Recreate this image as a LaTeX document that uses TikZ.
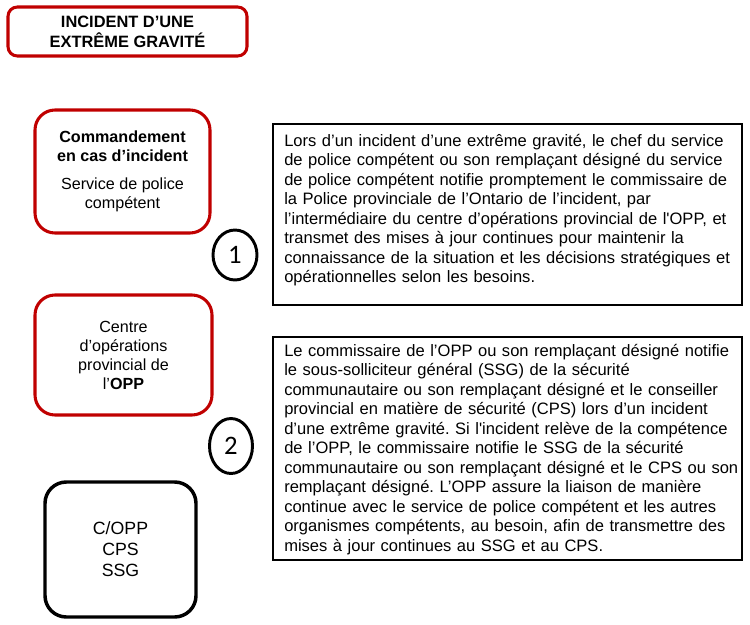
\documentclass[tikz,border=0pt]{standalone}
\usepackage{fontspec}
\setmainfont{Liberation Sans}
\newfontfamily\numfont{Carlito}
\usepackage{tikz}
\usetikzlibrary{shapes.geometric, positioning}
\definecolor{alertred}{RGB}{192,0,0}
\frenchspacing

\begin{document}
\begin{tikzpicture}[x=0.75pt, y=-0.75pt,
  redbox/.style={draw=alertred, line width=2.3pt, rounded corners=15pt, align=center, inner sep=0pt},
  blackbox/.style={draw=black, line width=2.6pt, rounded corners=16pt, align=center, inner sep=0pt},
  stepnum/.style={draw, ellipse, line width=2.2pt, inner sep=0pt, font=\numfont\fontsize{20}{24}\selectfont},
  descbox/.style={draw, line width=1.5pt, minimum width=351.75pt, inner sep=0pt},
  desctext/.style={anchor=north west, inner sep=0pt, text width=344pt, align=left, font=\fontsize{12.4}{14.6}\selectfont}
]

\useasboundingbox (0,0) rectangle (750,625);

\node[redbox, rounded corners=7pt, minimum width=179.25pt, minimum height=36.75pt, font=\bfseries\fontsize{12.3}{15}\selectfont] (title) at (127.5,31.5) {INCIDENT D’UNE\\EXTRÊME GRAVITÉ};

\node[redbox, minimum width=131.25pt, minimum height=92.25pt, font=\fontsize{12.1}{14.25}\selectfont] (command) at (122.5,171.5)
  {\textbf{Commandement}\\\textbf{en cas d’incident}\\[6.5pt]Service de police\\compétent};
\node[redbox, minimum width=132.75pt, minimum height=90pt, font=\fontsize{12.1}{14.25}\selectfont] (opscentre) at (123.5,355)
  {Centre\\d’opérations\\provincial de\\l’\textbf{OPP}};
\node[blackbox, minimum width=113.25pt, minimum height=101.25pt, font=\fontsize{13.3}{15.75}\selectfont] (officials) at (120.5,549.5)
  {C/OPP\\CPS\\SSG};

\node[stepnum, minimum width=33pt, minimum height=37.5pt] (num1) at (235,255) {1};
\node[stepnum, minimum width=32.25pt, minimum height=41.25pt] (num2) at (231,446) {2};

\node[descbox, minimum height=135.75pt] (desc1) at (507.5,214.5) {};
\node[desctext, xshift=9pt, yshift=-8.25pt] (desc1text) at (desc1.north west)
  {Lors d’un incident d’une extrême gravité, le chef du service\\
   de police compétent ou son remplaçant désigné du service\\
   de police compétent notifie promptement le commissaire de\\
   la Police provinciale de l’Ontario de l’incident, par\\
   l’intermédiaire du centre d’opérations provincial de l\textquotesingle OPP, et\\
   transmet des mises à jour continues pour maintenir la\\
   connaissance de la situation et les décisions stratégiques et\\
   opérationnelles selon les besoins.};

\node[descbox, minimum height=167.25pt] (desc2) at (507.5,448.5) {};
\node[desctext, xshift=9pt, yshift=-6pt] (desc2text) at (desc2.north west)
  {Le commissaire de l’OPP ou son remplaçant désigné notifie\\
   le sous-solliciteur général (SSG) de la sécurité\\
   communautaire ou son remplaçant désigné et le conseiller\\
   provincial en matière de sécurité (CPS) lors d’un incident\\
   d’une extrême gravité. Si l\textquotesingle incident relève de la compétence\\
   de l’OPP, le commissaire notifie le SSG de la sécurité\\
   communautaire ou son remplaçant désigné et le CPS ou son\\
   remplaçant désigné. L’OPP assure la liaison de manière\\
   continue avec le service de police compétent et les autres\\
   organismes compétents, au besoin, afin de transmettre des\\
   mises à jour continues au SSG et au CPS.};

\end{tikzpicture}
\end{document}
